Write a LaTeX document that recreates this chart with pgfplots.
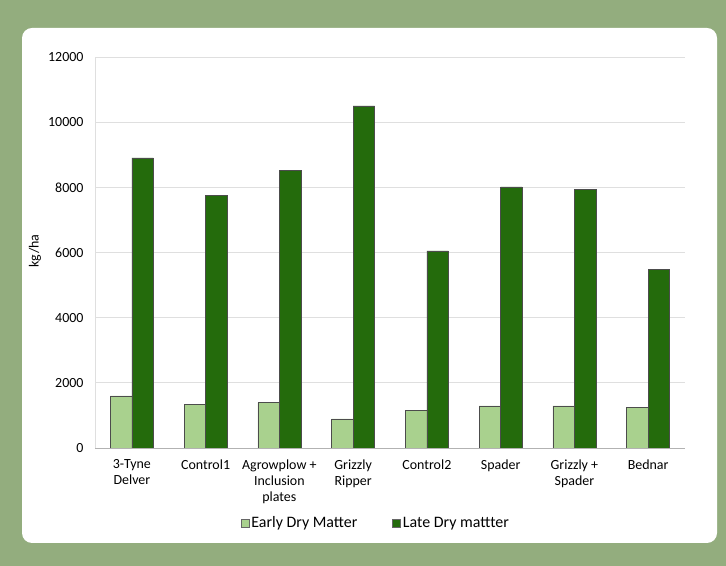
\documentclass[border=0pt]{standalone}
\usepackage{pgfplots}
\pgfplotsset{compat=1.18}
\usepackage{fontspec}
\setmainfont{Carlito}
\definecolor{bg}{HTML}{93AD7E}
\definecolor{early}{HTML}{A9D18E}
\definecolor{late}{HTML}{246B0C}
\begin{document}
\begin{tikzpicture}[x=1bp,y=1bp]
\fill[bg] (0,0) rectangle (726,566);
\useasboundingbox (0,0) rectangle (726,566);
\fill[white, rounded corners=10bp] (22,23) rectangle (717,538);
\node[rotate=90, font=\fontsize{14}{16}\selectfont] at (35,315) {kg/ha};
\begin{axis}[
  at={(95bp,118bp)}, anchor=south west, scale only axis,
  width=590bp, height=391bp,
  ybar=0pt, bar width=21.5bp,
  xmin=-0.5, xmax=7.5, ymin=0, ymax=12000,
  xtick={0,...,7},
  xticklabels={{3-Tyne\\Delver},{Control1},{Agrowplow +\\Inclusion\\plates},{Grizzly\\Ripper},{Control2},{Spader},{Grizzly +\\Spader},{Bednar}},
  ytick={0,2000,...,12000},
  scaled y ticks=false,
  /pgf/number format/fixed,
  /pgf/number format/1000 sep={},
  /pgf/number format/assume math mode=true,
  ticklabel style={font=\fontsize{14}{16.2}\selectfont, text=black},
  yticklabel style={xshift=-8bp},
  xticklabel style={align=center, yshift=-8bp},
  major tick length=0pt,
  ymajorgrids, grid style={gray!25, line width=0.8bp},
  axis x line*=bottom, axis y line*=left,
  x axis line style={gray!60, line width=0.8bp, -},
  y axis line style={gray!25, line width=0.8bp, -},
  legend columns=2,
  legend style={at={(axis description cs:0.476,-0.192)}, anchor=center, draw=none, fill=none,
    font=\fontsize{16}{19}\selectfont, /tikz/every even column/.append style={column sep=33bp}},
  legend image code/.code={\draw[#1, draw=black!60, line width=0.6bp] (0bp,-4bp) rectangle (8bp,4bp);},
]
\addplot[fill=early, draw=black!70, line width=0.6bp] coordinates {(0,1600) (1,1330) (2,1390) (3,890) (4,1165) (5,1290) (6,1290) (7,1250)};
\addplot[fill=late, draw=black!70, line width=0.6bp] coordinates {(0,8900) (1,7760) (2,8520) (3,10500) (4,6050) (5,8010) (6,7940) (7,5490)};
\legend{Early Dry Matter, Late Dry mattter}
\end{axis}
\end{tikzpicture}
\end{document}
